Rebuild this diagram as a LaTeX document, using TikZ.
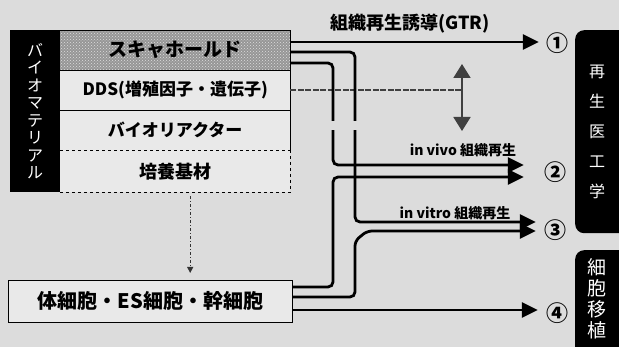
\documentclass[tikz,border=0pt]{standalone}
\usepackage{fontspec}
\setmainfont{Noto Sans CJK JP}
\usetikzlibrary{arrows.meta,calc,patterns}
\definecolor{bg}{RGB}{220,220,220}
\definecolor{boxbg}{RGB}{233,233,233}
\definecolor{scaf}{RGB}{150,150,150}
\tikzset{
 pipe/.style={line width=2.8pt, rounded corners=5pt, black},
 tip/.style={-{Triangle[length=16pt,width=15pt]}},
 rowbox/.style={minimum width=230pt, minimum height=40pt, inner sep=0pt, anchor=north west, fill=boxbg, font=\bfseries\fontsize{17}{17}\selectfont},
 lbl/.style={font=\bfseries\fontsize{14}{14}\selectfont},
 num/.style={font=\bfseries\fontsize{22}{22}\selectfont, inner sep=0pt},
 blackbox/.style={fill=black, rounded corners=9pt, minimum width=60pt, inner sep=0pt, anchor=north west},
 whitetxt/.style={text=white, align=center, inner sep=0pt},
 border/.style={line width=0.8pt},
 ddsline/.style={gray!50!black, line width=1.8pt, dash pattern=on 6pt off 1.5pt},
 ddsarrow/.style={gray!50!black, line width=1.8pt, {Triangle[length=14pt,width=17pt,fill=gray!50!black]}-{Triangle[length=14pt,width=17pt,fill=gray!50!black]}},
 dotarrow/.style={gray!40!black, line width=1pt, dash pattern=on 3pt off 2pt on 1pt off 2pt, -{Triangle[length=6pt,width=6pt]}},
}
\begin{document}
\begin{tikzpicture}[x=1pt,y=-1pt]
\fill[bg] (0,0) rectangle (619,347);
\useasboundingbox (0,0) rectangle (619,347);

% left black box
\node[fill=black, minimum width=50pt, minimum height=162pt, inner sep=0pt, anchor=north west, text=white, align=center, font=\fontsize{16}{17.5}\selectfont] (bio) at (10,30) {バ\\イ\\オ\\マ\\テ\\リ\\ア\\ル};

% stack rows
\node[rowbox, fill=scaf, postaction={pattern=crosshatch dots, pattern color=gray!25}, font=\bfseries\fontsize{19}{19}\selectfont] (sc) at (60,30) {};
\node[font=\bfseries\fontsize{19}{19}\selectfont] (sct) at (sc.center) {スキャホールド};
\node[rowbox] (dds) at (60,70) {DDS(増殖因子・遺伝子)};
\node[rowbox] (br) at (60,110) {バイオリアクター};
\node[rowbox, minimum height=42pt, font=\bfseries\fontsize{18}{18}\selectfont] (cul) at (60,150) {培養基材};

\draw[border] (sc.north west) -- (sc.north east) -- (br.south east);
\draw[border] (sc.south west) -- (sc.south east);
\draw[border] (dds.south west) -- (dds.south east);
\draw[border, dashed] (cul.north west) -- (cul.north east);
\draw[border, dashed] (cul.north east) -- (cul.south east) -- (cul.south west);

% cell box
\node[draw, border, fill=boxbg, minimum width=284pt, minimum height=42pt, inner sep=0pt, anchor=north west, font=\bfseries\fontsize{20}{20}\selectfont] (cell) at (8,280) {体細胞・ES細胞・幹細胞};

% numbers
\node[num] (n1) at (557,43) {①};
\node[num] (n2) at (555,172) {②};
\node[num] (n3) at (555,230) {③};
\node[num] (n4) at (557,313) {④};

\coordinate (a1) at ($(n1.west)+(-7,-1)$);
\coordinate (a2u) at ($(n2.west)+(-20,-7)$);
\coordinate (a2l) at ($(n2.west)+(-20,5)$);
\coordinate (a3u) at ($(n3.west)+(-8,-8)$);
\coordinate (a3l) at ($(n3.west)+(-8,1)$);
\coordinate (a4) at ($(n4.west)+(-8,-3)$);

% dotted arrow
\draw[dotarrow] ($(cul.south)+(15,4)$) -- ($(cul.south |- cell.north)+(15,-7)$);

% DDS line and vertical arrow
\coordinate (up) at (462,64);
\coordinate (dn) at (462,131);
\draw[ddsline] (dds.east) -- (up |- dds.east);
\draw[ddsarrow] (up) -- (dn);

% pipes
\draw[pipe, tip] ($(sc.north east)+(0,12)$) -- (a1);
\draw[pipe, tip] ($(sc.north east)+(0,22)$) -| (355,222) -- (a3u);
\draw[pipe, tip] ($(sc.north east)+(0,33)$) -| (333,165) -- (a2u);
\draw[pipe, tip] ($(cell.north east)+(0,7)$) -| (333,177) -- (a2l);
\draw[pipe, tip] ($(cell.north east)+(0,17)$) -- (355,297) -- (355,241) -- (367,231) -- (a3l);
\draw[pipe, tip] ($(cell.north east)+(0,30)$) -- (a4);
\fill[bg] (326,121) rectangle (362,130);

% labels
\node[font=\bfseries\fontsize{18}{18}\selectfont] (gtr) at (410,24) {組織再生誘導(GTR)};
\node[lbl] (vivo) at (463,150) {in vivo 組織再生};
\node[lbl] (vitro) at (455,213) {in vitro 組織再生};

% right boxes
\node[blackbox, minimum height=203pt] (rgbox) at (575,30) {};
\node[whitetxt, font=\fontsize{16}{30}\selectfont] (rgt) at (597,132) {再\\生\\医\\工\\学};
\node[blackbox, minimum height=120pt] (ctbox) at (575,250) {};
\node[whitetxt, font=\fontsize{19}{21}\selectfont] (ctt) at (597,299) {細\\胞\\移\\植};
\end{tikzpicture}
\end{document}
